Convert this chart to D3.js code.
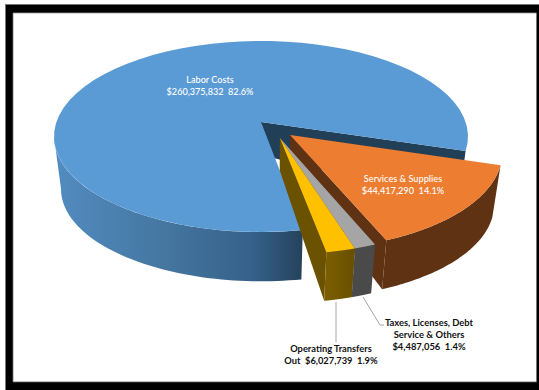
<!DOCTYPE html>
<html>
<head>
<meta charset="utf-8">
<script src="https://cdnjs.cloudflare.com/ajax/libs/d3/7.8.5/d3.min.js"></script>
<style>
html,body{margin:0;padding:0;background:#fff;}
svg{display:block;}
text{font-family:Lato,"Open Sans",sans-serif;white-space:pre;text-anchor:middle;}
</style>
</head>
<body>
<svg id="chart" width="539" height="390"></svg>
<script>
// Budget categories and their amounts
const categories = ["Labor Costs", "Services & Supplies", "Taxes, Licenses, Debt Service & Others", "Operating Transfers Out"];
const amounts = [260375832, 44417290, 4487056, 6027739];
const percents = [82.6, 14.1, 1.4, 1.9];

// How each category's caption breaks over lines; the amount and share are appended
const captionLines = [["Labor Costs"], ["Services & Supplies"], ["Taxes, Licenses, Debt", "Service & Others"], ["Operating Transfers"]];

const W = 539, H = 390;
const svg = d3.select("#chart");

const TOP = {cx: 261, cy: 122, A: 204.6, a: 93.3, k: 0.152};
const FLOOR_SHRINK = 0.966, FLOOR_DROP = 53, HUB_DROP = 33;
const deg = Math.PI / 180;

// Perspective view of the pie's top face: u runs right, v towards the viewer
function project(u, v, floor) {
  const d = 1 - TOP.k * v, s = floor ? FLOOR_SHRINK : 1;
  return [TOP.cx + s * TOP.A * u / d, TOP.cy + (floor ? FLOOR_DROP : 0) + s * TOP.a * v / d];
}
const rim = (angle, off) => [Math.sin(angle) + off[0], -Math.cos(angle) + off[1]];
const line = d3.line();

const pie = d3.pie().sort(null).value(d => d).startAngle(170 * deg).endAngle(530 * deg);
const arcs = pie(amounts);

// Explosion of each slice away from the hub
const offsets = [[0, 0], [0.139, 0.136], [0.09, 0.167], [0.09, 0.167]];
const topColors = ["#5b9bd5", "#ed7d31", "#a5a5a5", "#ffc000"];
const faceColors = ["#223f58", "#5f3214", "#4a4a4a", "#6b5200"];

const defs = svg.append("defs");
function hGradient(id, stops, x1, x2) {
  const g = defs.append("linearGradient").attr("id", id)
    .attr("gradientUnits", "userSpaceOnUse").attr("x1", x1).attr("x2", x2).attr("y1", 0).attr("y2", 0);
  stops.forEach(s => g.append("stop").attr("offset", s[0]).attr("stop-color", s[1]));
}
hGradient("blueWall", [[0, "#528bc0"], [0.45, "#44769f"], [0.8, "#35618a"], [1, "#26445f"]], 58, 300);
hGradient("goldWall", [[0, "#7f6000"], [1, "#6a5100"]], 322, 352);

const steps = a => d3.range(0, 61).map(i => a[0] + (a[1] - a[0]) * i / 60);
const topPts = (a, off) => steps(a).map(t => { const p = rim(t, off); return project(p[0], p[1], false); });
const floorPts = (a, off) => steps(a).map(t => { const p = rim(t, off); return project(p[0], p[1], true); });

function wall(a, off, fill) {
  svg.append("path").attr("fill", fill)
    .attr("d", line(topPts(a, off).concat(floorPts(a, off).reverse())) + "Z");
}
// Radial side of a slice, from its rim edge back to the hub
function sideFace(angle, off, fill) {
  const p = rim(angle, off);
  const hub = project(off[0], off[1], false);
  svg.append("path").attr("fill", fill)
    .attr("d", line([hub, project(p[0], p[1], false), project(p[0], p[1], true), [hub[0], hub[1] + HUB_DROP]]) + "Z");
}
function topFace(d, off, fill) {
  svg.append("path").attr("fill", fill)
    .attr("d", line([project(off[0], off[1], false)].concat(topPts([d.startAngle, d.endAngle], off))) + "Z");
}

// Large slice: notch wall, outer wall up to the left silhouette, then top
const labor = arcs[0];
sideFace(labor.endAngle, offsets[0], faceColors[0]);
wall([labor.startAngle, 261.3 * deg], offsets[0], "url(#blueWall)");
topFace(labor, offsets[0], topColors[0]);

// Services & Supplies
const serv = arcs[1];
sideFace(serv.endAngle, offsets[1], faceColors[1]);
wall([serv.startAngle, serv.endAngle], offsets[1], faceColors[1]);
topFace(serv, offsets[1], topColors[1]);

// Taxes
const tax = arcs[2];
sideFace(tax.endAngle, offsets[2], faceColors[2]);
wall([tax.startAngle, tax.endAngle], offsets[2], faceColors[2]);
topFace(tax, offsets[2], topColors[2]);

// Operating transfers
const ops = arcs[3];
sideFace(ops.endAngle, offsets[3], faceColors[3]);
wall([ops.startAngle, ops.endAngle], offsets[3], "url(#goldWall)");
topFace(ops, offsets[3], topColors[3]);

// Leader lines
const leader = pts => svg.append("path").attr("fill", "none").attr("stroke", "#a6a6a6").attr("stroke-width", 1).attr("d", line(pts));
leader([[336, 302], [336, 342]]);
leader([[363, 297], [380, 325], [384, 325]]);

// Captions
const money = d3.format("$,");
const valueText = i => `${money(amounts[i])}  ${percents[i]}%`;
function caption(lines, x, y, fill, weight, size) {
  const t = svg.append("text").attr("x", x).attr("y", y).attr("fill", fill)
    .attr("font-size", size).attr("font-weight", weight);
  lines.forEach((s, i) => t.append("tspan").attr("x", x).attr("dy", i ? 12 : 0).text(s));
}
caption([...captionLines[0], valueText(0)], 210, 82.5, "#ffffff", 500, 9.1);
caption([...captionLines[1], valueText(1)], 403, 181.5, "#ffffff", 500, 9.2);
caption([...captionLines[2], valueText(2)], 429, 325.5, "#111111", 700, 9.4);
caption([...captionLines[3], "Out  " + valueText(3)], 331, 351.5, "#111111", 700, 9.3);

// Picture frame
const frame = (x, y, w, h, fill) => svg.append("rect").attr("x", x).attr("y", y).attr("width", w).attr("height", h).attr("fill", fill);
frame(5, 4, W - 5, 9, "#000");
frame(5, 4, 8, H - 4, "#000");
frame(5, 382, W - 5, 8, "#000");
frame(537, 4, 2, H - 4, "#000");
frame(5, 4, W - 5, 1, "#777");
frame(5, 4, 1, H - 4, "#777");
frame(13, 12.5, 523.5, 0.8, "#777");
frame(13, 381.5, 523.5, 0.8, "#777");
frame(536, 13, 1, 369, "#777");
frame(12.6, 13, 0.8, 369, "#777");
</script>
</body>
</html>
